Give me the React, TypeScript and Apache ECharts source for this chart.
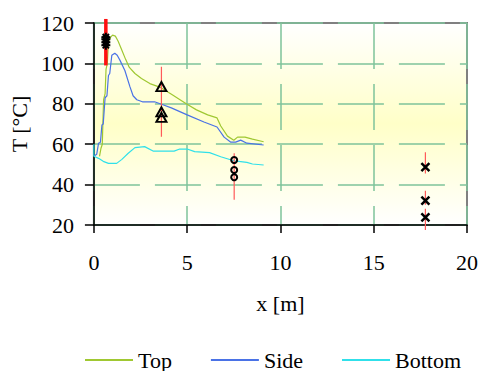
import React, { useEffect, useRef } from "react";
import * as echarts from "echarts";

const xTicks = [0, 5, 10, 15, 20];
const yTicks = [20, 40, 60, 80, 100, 120];

const topLine: [number, number][] = [
  [0.3, 54], [0.38, 58], [0.45, 60], [0.48, 70], [0.52, 82], [0.6, 85], [0.65, 97], [0.72, 100],
  [0.78, 111], [0.9, 113], [1.0, 114], [1.15, 113.5], [1.3, 111], [1.5, 106.5], [1.7, 102],
  [1.9, 98], [2.2, 95], [2.55, 92.5], [3.0, 90], [3.6, 88], [4.2, 84.5], [4.95, 80], [5.5, 77],
  [6.1, 74.5], [6.6, 73], [6.8, 69], [7.16, 64], [7.5, 62], [7.7, 63.5], [8.1, 63.5], [8.5, 62.5],
  [9.1, 61.2],
];
const sideLine: [number, number][] = [
  [0, 54], [0.15, 55], [0.25, 60.5], [0.35, 61], [0.43, 69.5], [0.5, 70], [0.6, 83], [0.7, 84],
  [0.78, 94], [0.85, 95], [0.96, 104], [1.12, 105], [1.25, 104], [1.4, 101.5], [1.66, 96.5],
  [1.93, 88.5], [2.1, 84], [2.3, 82], [2.6, 81], [3.25, 81], [3.7, 79.5], [4.15, 78], [5.0, 74.5],
  [5.9, 71], [6.6, 68.5], [6.98, 63.5], [7.34, 61], [7.6, 61], [7.87, 62], [8.2, 60.5], [9.1, 59.6],
];
const bottomLine: [number, number][] = [
  [0, 60], [0, 54], [0.25, 53], [0.5, 51.5], [0.78, 50.5], [1.22, 50.5], [1.5, 52.5], [1.84, 55.5],
  [2.2, 58.3], [2.72, 58.8], [3.17, 56.6], [4.3, 56.6], [4.6, 57.6], [5.0, 57.6], [5.4, 56.3],
  [6.2, 55.8], [6.8, 53.8], [7.5, 51.8], [7.87, 51.4], [8.2, 51], [8.5, 50.2], [9.1, 49.7],
];

const starX = 0.64;
const starT = [109, 110.5, 112, 113];
const triX = 3.62;
const triT = [88.5, 76, 73.3];
const circX = 7.52;
const circT = [52.2, 47.2, 43.6];
const crossX = 17.77;
const crossT = [48.6, 32.1, 23.8];

// error bars: [x, low, high]
const errThick: [number, number, number][] = [[0.64, 99, 122]];
const errThin: [number, number, number][] = [
  [3.62, 63.7, 98.4],
  [7.52, 32.5, 55.5],
  [17.77, 45.5, 56],
  [17.77, 30, 37],
  [17.77, 17.5, 28],
];

const toSegments = (bars: [number, number, number][]) => {
  const out: any[] = [];
  bars.forEach(([x, lo, hi]) => {
    out.push([x, lo], [x, hi], [x, "-"]);
  });
  return out;
};

const FONT = "serif";
const FS = 22;

export default function App() {
  const ref = useRef<HTMLDivElement>(null);
  useEffect(() => {
    if (!ref.current) return;
    const chart = echarts.init(ref.current, undefined, { renderer: "svg" });
    const gridLine = { show: true, lineStyle: { color: "#7fc49a", width: 1.5, type: [46, 15] as any } };
    const txt = { fontFamily: FONT, fontSize: FS, color: "#000", fontWeight: "normal" as const };
    chart.setOption({
      animation: false,
      textStyle: { fontFamily: FONT },
      grid: {
        left: 92, right: 13, top: 23, bottom: 146,
        show: true,
        borderColor: "#808080",
        borderWidth: 2,
        backgroundColor: new echarts.graphic.LinearGradient(0, 0, 0, 1, [
          { offset: 0, color: "#ffffff" },
          { offset: 0.5, color: "#ffffc8" },
          { offset: 1, color: "#ffffff" },
        ]),
      },
      legend: {
        left: 80, top: 344,
        itemWidth: 48, itemHeight: 2, itemGap: 39,
        icon: "rect",
        textStyle: { ...txt },
        data: ["Top", "Side", "Bottom"],
      },
      xAxis: {
        type: "value", min: xTicks[0], max: xTicks[xTicks.length - 1], interval: 5,
        name: "x [m]", nameLocation: "middle", nameGap: 67,
        nameTextStyle: { ...txt },
        axisLine: { show: true, onZero: false, lineStyle: { color: "#000", width: 1.5 } },
        axisTick: { show: true, length: 8, lineStyle: { color: "#000", width: 1.5 } },
        axisLabel: { ...txt, margin: 26 },
        splitLine: gridLine,
      },
      yAxis: {
        type: "value", min: yTicks[0], max: yTicks[yTicks.length - 1], interval: 20,
        name: "T [°C]", nameLocation: "middle", nameGap: 61,
        nameTextStyle: { ...txt },
        axisLine: { show: true, onZero: false, lineStyle: { color: "#000", width: 1.5 } },
        axisTick: { show: true, length: 9, lineStyle: { color: "#000", width: 1.5 } },
        axisLabel: { ...txt, margin: 20 },
        splitLine: gridLine,
      },
      series: [
        {
          name: "Top", type: "line", data: topLine, showSymbol: false, symbol: "none",
          lineStyle: { color: "#a0c832", width: 1.2 }, itemStyle: { color: "#a0c832" }, z: 3,
        },
        {
          name: "Side", type: "line", data: sideLine, showSymbol: false, symbol: "none",
          lineStyle: { color: "#4a72e6", width: 1.2 }, itemStyle: { color: "#4a72e6" }, z: 3,
        },
        {
          name: "Bottom", type: "line", data: bottomLine, showSymbol: false, symbol: "none",
          lineStyle: { color: "#30e0ea", width: 1.2 }, itemStyle: { color: "#30e0ea" }, z: 3,
        },
        {
          name: "errThick", type: "line", data: toSegments(errThick), symbol: "none", clip: false,
          connectNulls: false, lineStyle: { color: "#ff1010", width: 3.5 }, z: 4,
        },
        {
          name: "errThin", type: "line", data: toSegments(errThin), symbol: "none", clip: false,
          connectNulls: false, lineStyle: { color: "#ff5a5a", width: 1.2 }, z: 4,
        },
        {
          name: "star", type: "scatter", data: starT.map((t) => [starX, t]),
          symbol: "path://M5,0L5,10M0,5L10,5M1.5,1.5L8.5,8.5M8.5,1.5L1.5,8.5", symbolSize: 9,
          itemStyle: { color: "transparent", borderColor: "#000", borderWidth: 2, opacity: 1 }, z: 5,
        },
        {
          name: "tri", type: "scatter", data: triT.map((t) => [triX, t]),
          symbol: "triangle", symbolSize: [10, 9],
          itemStyle: { color: "transparent", borderColor: "#000", borderWidth: 2, opacity: 1 }, z: 5,
        },
        {
          name: "circ", type: "scatter", data: circT.map((t) => [circX, t]),
          symbol: "circle", symbolSize: 6,
          itemStyle: { color: "transparent", borderColor: "#000", borderWidth: 2, opacity: 1 }, z: 5,
        },
        {
          name: "cross", type: "scatter", data: crossT.map((t) => [crossX, t]),
          symbol: "path://M0,0L10,10M10,0L0,10", symbolSize: 8,
          itemStyle: { color: "transparent", borderColor: "#000", borderWidth: 2.5, opacity: 1 }, z: 5,
        },
      ],
    });
    return () => chart.dispose();
  }, []);
  return <div ref={ref} style={{ width: 481, height: 371, position: "absolute", left: 0, top: 0 }} />;
}
